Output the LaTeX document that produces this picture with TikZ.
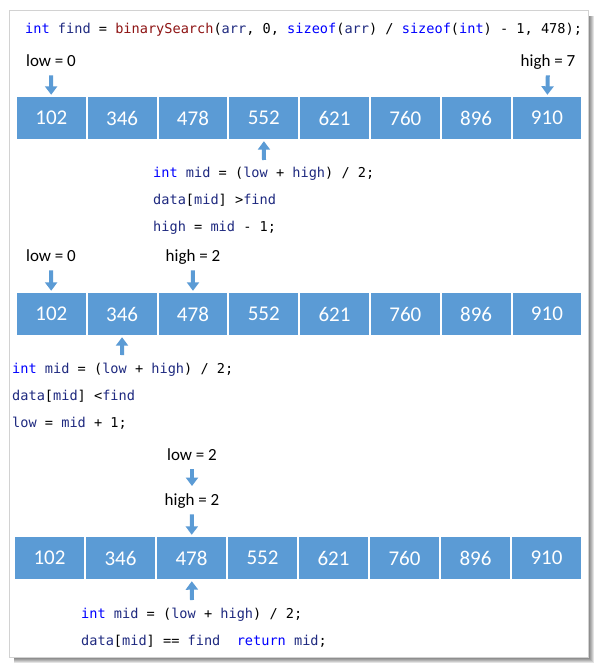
\documentclass[tikz,border=0pt]{standalone}
\usepackage{fontspec}
\setmainfont{Carlito}
\newfontfamily\codefont{DejaVu Sans Mono}
\usetikzlibrary{arrows.meta}

\definecolor{cellblue}{HTML}{5B9BD5}
\definecolor{kwblue}{HTML}{0000FF}
\definecolor{idnavy}{HTML}{1F2A80}
\definecolor{fnred}{HTML}{8E1414}

\newcommand\ckw[1]{\textcolor{kwblue}{#1}}
\newcommand\cid[1]{\textcolor{idnavy}{#1}}
\newcommand\cfn[1]{\textcolor{fnred}{#1}}

\tikzset{
  cell/.style={rectangle, fill=cellblue, inner sep=0, minimum width=68.7pt,
    minimum height=42pt, text=white, font=\fontsize{21}{24}\selectfont},
  lbl/.style={inner sep=0, text height=11pt, text depth=3.5pt,
    font=\fontsize{17}{20}\selectfont},
  code/.style={anchor=base west, inner sep=0, font=\codefont\fontsize{13.6}{16}\selectfont},
  ptr/.style={draw=cellblue, line width=4pt, -{Triangle[width=12pt,length=8.5pt]},
    shorten <=5pt, shorten >=2pt}
}

\begin{document}
\begin{tikzpicture}[x=1pt, y=-1pt]
  \useasboundingbox (0,0) rectangle (598,668);

  % Panel with drop shadow
  \foreach \d in {6,5,...,1} {
    \fill[black, opacity=0.11] (14,16) rectangle (588+\d,657+\d);
  }
  \fill[white, draw=gray!35] (9,10) rectangle (588,657);

  % Call
  \node[code] (call) at (25,33.5) {\ckw{int} \cid{find} = \cfn{binarySearch}(\cid{arr}, 0, \ckw{sizeof}(\cid{arr}) / \ckw{sizeof}(\ckw{int}) - 1, 478);};

  % The three rows of the array
  \foreach \v [count=\i from 0] in {102,346,478,552,621,760,896,910} {
    \node[cell] (a\i) at (51.35+70.8*\i,118) {\v};
    \node[cell] (b\i) at (51.35+70.8*\i,314) {\v};
    \node[cell, minimum width=69pt] (c\i) at (49.5+71*\i,558) {\v};
  }

  % Step 1: low = 0, high = 7
  \node[lbl] (lowA) at (51,63) {low = 0};
  \node[lbl] (highA) at (548,63) {high = 7};
  \draw[ptr] (lowA) -- (a0);
  \draw[ptr] (highA) -- (a7);
  \coordinate (midA) at (264,160);
  \draw[ptr, shorten <=0pt] (midA) -- (a3);
  \node[code] (codeA1) at (153,177.5) {\ckw{int} \cid{mid} = (\cid{low} + \cid{high}) / 2;};
  \node[code] (codeA2) at (153,204.5) {\cid{data}[\cid{mid}] >\cid{find}};
  \node[code] (codeA3) at (153,231.5) {\cid{high} = \cid{mid} - 1;};

  % Step 2: low = 0, high = 2
  \node[lbl] (lowB) at (51,258) {low = 0};
  \node[lbl] (highB) at (193,258) {high = 2};
  \draw[ptr] (lowB) -- (b0);
  \draw[ptr] (highB) -- (b2);
  \coordinate (midB) at (122,355);
  \draw[ptr, shorten <=0pt] (midB) -- (b1);
  \node[code] (codeB1) at (12,373.5) {\ckw{int} \cid{mid} = (\cid{low} + \cid{high}) / 2;};
  \node[code] (codeB2) at (12,400.5) {\cid{data}[\cid{mid}] <\cid{find}};
  \node[code] (codeB3) at (12,427.5) {\cid{low} = \cid{mid} + 1;};

  % Step 3: low = high = 2
  \node[lbl] (lowC) at (192,457) {low = 2};
  \node[lbl] (highC) at (192,502) {high = 2};
  \draw[ptr, shorten >=8.5pt] (lowC) -- (highC);
  \draw[ptr] (highC) -- (c2);
  \coordinate (midC) at (192,600);
  \draw[ptr, shorten <=0pt] (midC) -- (c2);
  \node[code] (codeC1) at (81,618.5) {\ckw{int} \cid{mid} = (\cid{low} + \cid{high}) / 2;};
  \node[code] (codeC2) at (81,645.5) {\cid{data}[\cid{mid}] == \cid{find}\ \ \ckw{return} \cid{mid};};
\end{tikzpicture}
\end{document}
